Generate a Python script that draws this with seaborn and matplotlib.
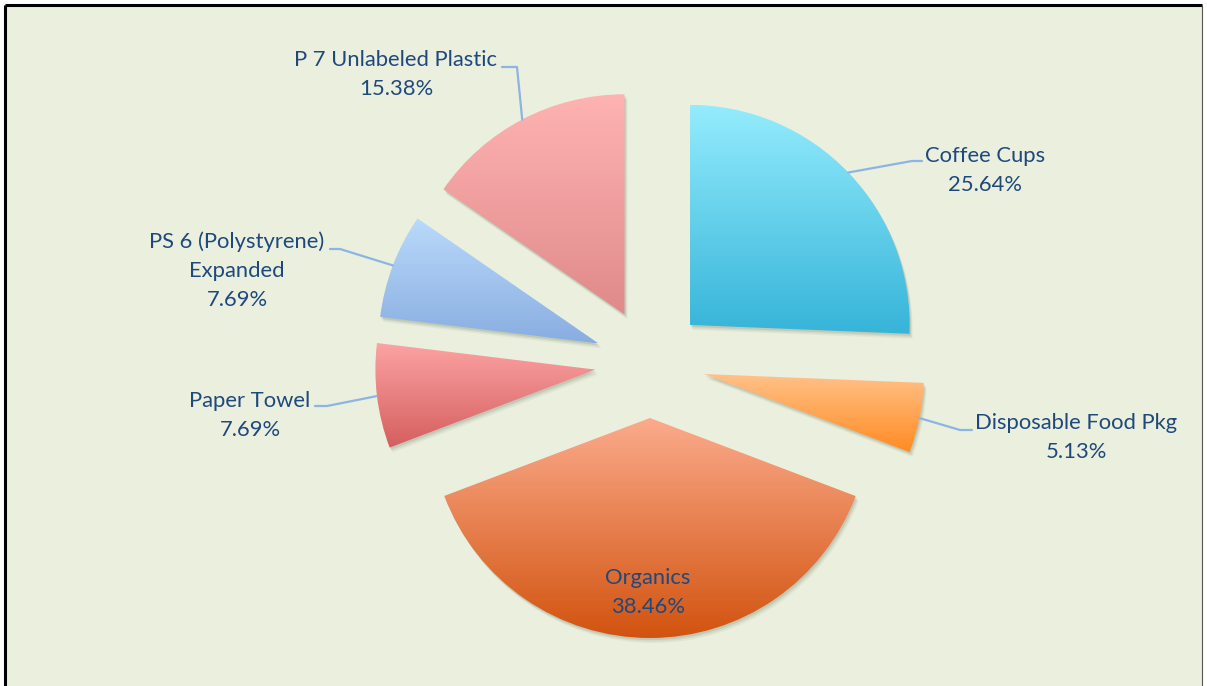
import numpy as np
import matplotlib
matplotlib.use("Agg")
import matplotlib.pyplot as plt
import seaborn as sns
from matplotlib.patches import Rectangle, Wedge

# --- Data ---
categories = ["Coffee Cups", "Disposable Food Pkg", "Organics", "Paper Towel",
              "PS 6 (Polystyrene)\nExpanded", "P 7 Unlabeled Plastic"]
shares = [25.64, 5.13, 38.46, 7.69, 7.69, 15.38]
top_colors = ["#94ECFD", "#FFC28A", "#FBAB8C", "#FCA3A3", "#BBDAFB", "#FFB3B3"]
bottom_colors = ["#36B4D9", "#FF8B22", "#D2530F", "#D55E5E", "#88ADE0", "#E08A8A"]

# --- Layout (pixel space, y measured from the top of the picture) ---
W, H = 1207, 686
CENTER = (650, 363)
RADIUS = 220
EXPLODE = 55
TEXT_COLOR = "#1F497D"
LEADER_COLOR = "#8EB4E3"
BG = "#EAEFDE"
FONT = ["Lato", "DejaVu Sans"]
FS = 15.8

# label anchor (x, y of first line centre), elbow point, line end, alignment
label_layout = {
    "Coffee Cups": ((985, 156), (912, 161), (922, 161), "center"),
    "Disposable Food Pkg": ((1076, 423), (960, 430), (972, 430), "center"),
    "Organics": ((648, 578), None, None, "center"),
    "Paper Towel": ((250, 401), (327, 406), (315, 406), "center"),
    "PS 6 (Polystyrene)\nExpanded": ((237, 242), (340, 249), (330, 249), "center"),
    "P 7 Unlabeled Plastic": ((396, 60), (517, 67), (502, 67), "center"),
}


def fy(y):
    return H - y


sns.set_theme(style="white")
plt.rcParams["font.family"] = FONT

fig = plt.figure(figsize=(W / 100, H / 100), dpi=100)
fig.patch.set_facecolor("white")
ax = fig.add_axes([0, 0, 1, 1])

wedges, _ = ax.pie(shares, explode=[EXPLODE] * len(shares), startangle=90,
                   counterclock=False, radius=RADIUS,
                   center=(CENTER[0], fy(CENTER[1])), frame=True,
                   wedgeprops=dict(linewidth=0, facecolor="none"))
ax.set_xlim(0, W)
ax.set_ylim(0, H)
ax.set_aspect("equal")
ax.axis("off")

# chart area with border
ax.add_patch(Rectangle((5, -5), 1197, fy(5) + 5, facecolor=BG, edgecolor="none", zorder=0))
ax.plot([5, 1202], [fy(5), fy(5)], color="black", lw=2.2, zorder=1, solid_capstyle="butt")
ax.plot([5, 5], [fy(5), 0], color="black", lw=2.2, zorder=1, solid_capstyle="butt")
ax.plot([1202, 1202], [fy(5), 0], color="#555555", lw=0.8, zorder=1)

grad = np.linspace(1, 0, 256)[:, None]
for w, c_top, c_bot in zip(wedges, top_colors, bottom_colors):
    cx, cy = w.center
    # soft drop shadow
    for k, a in [(5, 0.06), (3.5, 0.09), (2, 0.12)]:
        ax.add_patch(Wedge((cx + k * 0.6, cy - k), w.r, w.theta1, w.theta2,
                           facecolor="#4A5A40", alpha=a, lw=0, zorder=2))
    cmap = sns.blend_palette([c_top, c_bot], n_colors=256, as_cmap=True)
    ext = w.get_path().get_extents()
    im = ax.imshow(grad, cmap=cmap, vmin=0, vmax=1, origin="lower", aspect="auto",
                   extent=(ext.x0, ext.x1, ext.y0, ext.y1), zorder=3,
                   interpolation="bilinear")
    im.set_clip_path(w)

# labels and leader lines
for w, name, val in zip(wedges, categories, shares):
    (tx, ty), elbow, end, ha = label_layout[name]
    lines = name.split("\n") + [f"{val:.2f}%"]
    for i, line in enumerate(lines):
        ax.text(tx, fy(ty + 29 * i), line, ha=ha, va="center", fontsize=FS,
                color=TEXT_COLOR, zorder=6)
    if elbow is not None:
        mid = np.deg2rad((w.theta1 + w.theta2) / 2)
        sx = w.center[0] + w.r * np.cos(mid)
        sy = w.center[1] + w.r * np.sin(mid)
        ax.plot([sx, elbow[0], end[0]], [sy, fy(elbow[1]), fy(end[1])],
                color=LEADER_COLOR, lw=1.6, zorder=5)

fig.savefig("out.png", dpi=100, facecolor=fig.get_facecolor())
